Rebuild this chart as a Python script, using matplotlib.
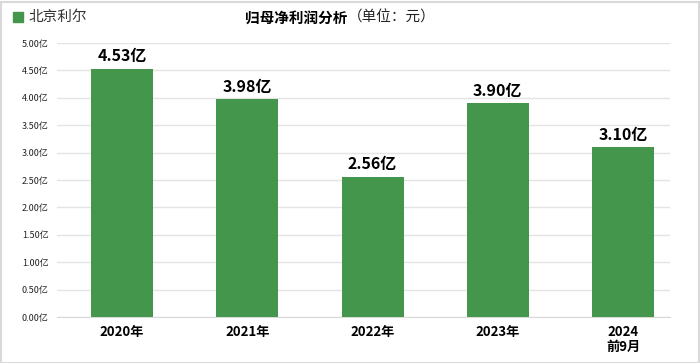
import matplotlib
matplotlib.use("Agg")
import matplotlib.pyplot as plt
from matplotlib.patches import Rectangle

plt.rcParams['font.family'] = ['Noto Sans CJK SC', 'DejaVu Sans']

categories = ['2020年', '2021年', '2022年', '2023年', '2024\n前9月']
values = [4.53, 3.98, 2.56, 3.90, 3.10]
labels = ['4.53亿', '3.98亿', '2.56亿', '3.90亿', '3.10亿']
yticks = [0, 0.5, 1.0, 1.5, 2.0, 2.5, 3.0, 3.5, 4.0, 4.5, 5.0]

GREEN = '#43964b'

fig = plt.figure(figsize=(7, 3.63), dpi=100)
ax = fig.add_axes([57 / 700, 1 - 317 / 363, 613 / 700, 274 / 363])

x = range(len(categories))
ax.bar(x, values, width=0.495, color=GREEN, zorder=3)
for i, (v, lab) in enumerate(zip(values, labels)):
    ax.text(i, v + 0.08, lab, ha='center', va='bottom', fontsize=11.5,
            fontweight='bold', color='black')

ax.set_xlim(-0.52, 4.375)
ax.set_ylim(0, 5.0)
ax.set_yticks(yticks)
ax.set_yticklabels([f'{t:.2f}亿' for t in yticks], fontsize=6.5, color='#222222')
ax.set_xticks(list(x))
ax.set_xticklabels(categories, fontsize=9.5, fontweight='bold', linespacing=1.1)
ax.tick_params(axis='both', length=0)
ax.tick_params(axis='y', pad=6)
ax.tick_params(axis='x', pad=6)
ax.grid(axis='y', color='#e4e4e4', linewidth=1, zorder=0)
for s in ['top', 'right', 'left']:
    ax.spines[s].set_visible(False)
ax.spines['bottom'].set_color('#d9d9d9')

# legend square and name
fig.patches.append(Rectangle((13 / 700, 1 - 22 / 363), 10 / 700, 10 / 363,
                             transform=fig.transFigure, color=GREEN))
fig.text(28 / 700, 1 - 17 / 363, '北京利尔', fontsize=10.5, va='center', color='#333333')

# title
fig.text(347 / 700, 1 - 18 / 363, '归母净利润分析', fontsize=10.5, fontweight='bold',
         ha='right', va='center')
fig.text(348 / 700, 1 - 18 / 363, '（单位：元）', fontsize=10.5, ha='left', va='center',
         color='#222222')

# outer border
fig.patches.append(Rectangle((0.5 / 700, 0.5 / 363), 698 / 700, 361 / 363,
                             transform=fig.transFigure, fill=False,
                             edgecolor='#d9d9d9', linewidth=1.5))

fig.savefig('out.png', dpi=100)
